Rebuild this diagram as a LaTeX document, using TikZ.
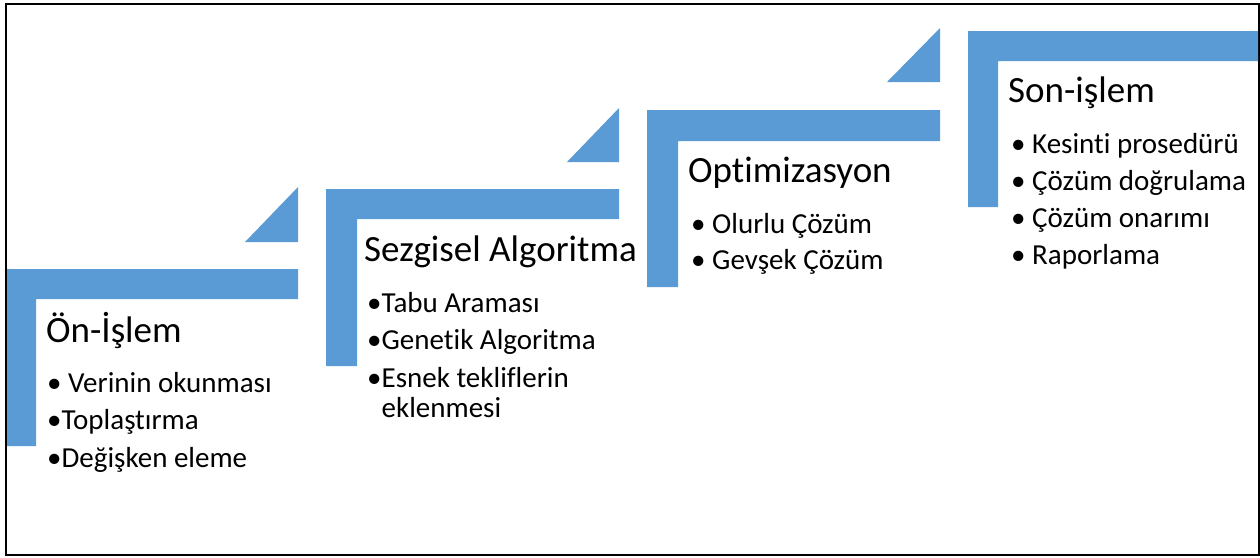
\documentclass[tikz,border=0pt]{standalone}
\usepackage{fontspec}
\setmainfont{Carlito}[RawFeature={-liga;-clig;-dlig}]
\begin{document}
\begin{tikzpicture}[x=1pt,y=-1pt,
  bar/.style={fill=stepblue,draw=none},
  tri/.style={fill=stepblue,draw=none},
  ttl/.style={anchor=base west,inner sep=0pt,font=\fontsize{37}{40}\selectfont},
  itm/.style={anchor=base west,inner sep=0pt,font=\fontsize{29}{32}\selectfont}]
\definecolor{stepblue}{HTML}{5B9BD5}
\useasboundingbox (0,0) rectangle (1260,557);
% frame
\draw[line width=2pt,black] (6,4) rectangle (1259,555);
% step 1
\fill[bar] (7,269) -- (298,269) -- (298,299) -- (36,299) -- (36,446) -- (7,446) -- cycle;
\fill[tri] (298,187) -- (245,242) -- (298,242) -- cycle;
% step 2
\fill[bar] (326,189) -- (619,189) -- (619,219) -- (357,219) -- (357,366) -- (326,366) -- cycle;
\fill[tri] (619,108) -- (567,162) -- (619,162) -- cycle;
% step 3
\fill[bar] (647,110) -- (940,110) -- (940,141) -- (678,141) -- (678,287) -- (647,287) -- cycle;
\fill[tri] (940,28) -- (887,82) -- (940,82) -- cycle;
% step 4
\fill[bar] (968,31) -- (1258,31) -- (1258,61) -- (998,61) -- (998,207) -- (968,207) -- cycle;
% texts step 1
\node[ttl] (t1) at (46,342) {Ön-İşlem};
\node[itm] (a1) at (47,392) {• Verinin okunması};
\node[itm] (a2) at (47,429) {•Toplaştırma};
\node[itm] (a3) at (47,467) {•Değişken eleme};
% step 2
\node[ttl] (t2) at (364,261) {Sezgisel Algoritma};
\node[itm] (b1) at (367,312) {•Tabu Araması};
\node[itm] (b2) at (367,349) {•Genetik Algoritma};
\node[itm] (b3) at (367,387) {•Esnek tekliflerin};
\node[itm] (b4) at (367,417) {\phantom{•}eklenmesi};
% step 3
\node[ttl] (t3) at (688,182) {Optimizasyon};
\node[itm] (c1) at (691,233) {• Olurlu Çözüm};
\node[itm] (c2) at (691,269) {• Gevşek Çözüm};
% step 4
\node[ttl] (t4) at (1008,102) {Son-işlem};
\node[itm] (d1) at (1011,153) {• Kesinti prosedürü};
\node[itm] (d2) at (1011,190) {• Çözüm doğrulama};
\node[itm] (d3) at (1011,227) {• Çözüm onarımı};
\node[itm] (d4) at (1011,264) {• Raporlama};
\end{tikzpicture}
\end{document}
